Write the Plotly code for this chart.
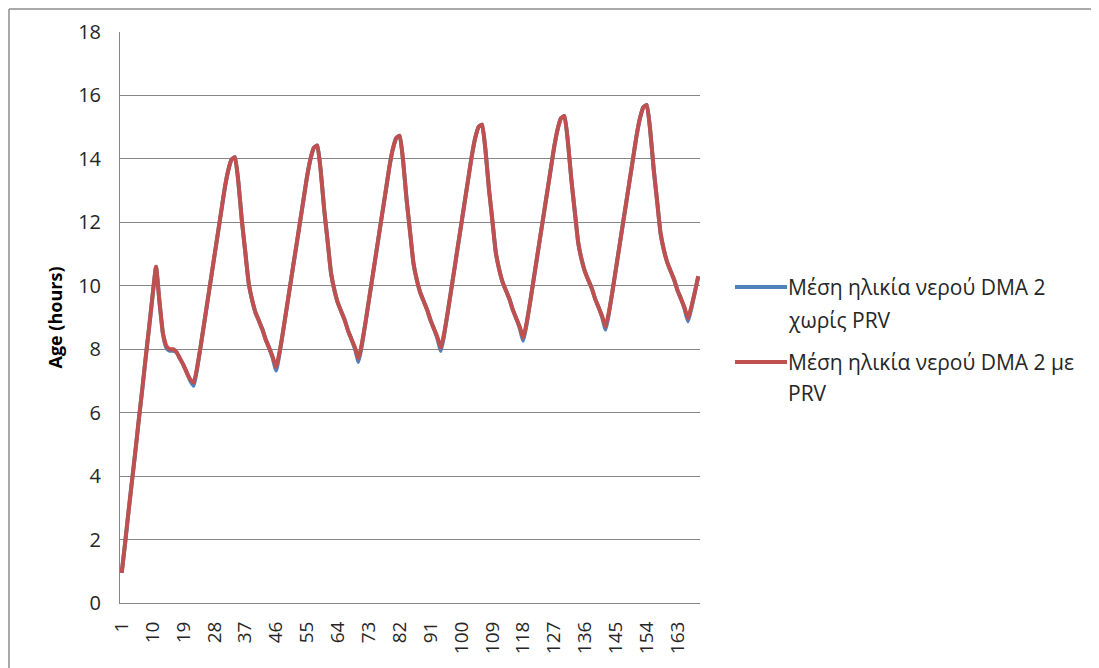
import plotly.graph_objects as go

hours = list(range(1, 170))
tick_hours = list(range(1, 170, 9))

age_with_prv = [
    0.95, 1.9, 2.9, 3.85, 4.8, 5.8, 6.75, 7.75, 8.7, 9.7,
    10.6, 9.5, 8.5, 8.1, 8.0, 8.0, 7.9, 7.7, 7.5, 7.25,
    7.05, 6.95, 7.45, 8.09, 8.8, 9.51, 10.22, 10.93, 11.64, 12.35,
    13.06, 13.62, 13.98, 14.05, 13.26, 12.06, 11.07, 10.08, 9.55, 9.15,
    8.89, 8.62, 8.29, 8.03, 7.76, 7.43, 7.92, 8.55, 9.25, 9.95,
    10.65, 11.34, 12.04, 12.74, 13.44, 14.0, 14.35, 14.42, 13.61, 12.4,
    11.4, 10.39, 9.85, 9.45, 9.18, 8.91, 8.57, 8.3, 8.04, 7.7,
    8.19, 8.82, 9.53, 10.23, 10.93, 11.64, 12.34, 13.04, 13.75, 14.31,
    14.66, 14.73, 13.93, 12.72, 11.72, 10.72, 10.18, 9.78, 9.51, 9.24,
    8.91, 8.64, 8.37, 8.04, 8.53, 9.17, 9.87, 10.57, 11.28, 11.98,
    12.69, 13.39, 14.09, 14.66, 15.01, 15.08, 14.27, 13.06, 12.06, 11.05,
    10.51, 10.11, 9.84, 9.57, 9.23, 8.96, 8.7, 8.36, 8.85, 9.48,
    10.18, 10.88, 11.58, 12.27, 12.97, 13.67, 14.37, 14.93, 15.28, 15.35,
    14.55, 13.36, 12.36, 11.37, 10.83, 10.44, 10.17, 9.91, 9.57, 9.31,
    9.04, 8.71, 9.2, 9.83, 10.53, 11.23, 11.93, 12.62, 13.32, 14.02,
    14.72, 15.28, 15.63, 15.7, 14.89, 13.68, 12.67, 11.66, 11.12, 10.72,
    10.45, 10.18, 9.84, 9.58, 9.31, 8.97, 9.35, 9.8, 10.3,
]

age_without_prv = [
    0.95, 1.9, 2.9, 3.85, 4.8, 5.8, 6.75, 7.75, 8.7, 9.7,
    10.6, 9.5, 8.5, 8.05, 7.95, 7.95, 7.9, 7.7, 7.5, 7.25,
    7.0, 6.85, 7.4, 8.09, 8.8, 9.51, 10.22, 10.93, 11.64, 12.35,
    13.06, 13.62, 13.98, 14.05, 13.26, 12.06, 11.07, 10.08, 9.55, 9.15,
    8.89, 8.62, 8.29, 8.03, 7.72, 7.33, 7.87, 8.55, 9.25, 9.95,
    10.65, 11.34, 12.04, 12.74, 13.44, 14.0, 14.35, 14.42, 13.61, 12.4,
    11.4, 10.39, 9.85, 9.45, 9.18, 8.91, 8.57, 8.3, 8.0, 7.6,
    8.14, 8.82, 9.53, 10.23, 10.93, 11.64, 12.34, 13.04, 13.75, 14.31,
    14.66, 14.73, 13.93, 12.72, 11.72, 10.72, 10.18, 9.78, 9.51, 9.24,
    8.91, 8.64, 8.33, 7.95, 8.48, 9.17, 9.87, 10.57, 11.28, 11.98,
    12.69, 13.39, 14.09, 14.66, 15.01, 15.08, 14.27, 13.06, 12.06, 11.05,
    10.51, 10.11, 9.84, 9.57, 9.23, 8.96, 8.66, 8.27, 8.8, 9.48,
    10.18, 10.88, 11.58, 12.27, 12.97, 13.67, 14.37, 14.93, 15.28, 15.35,
    14.55, 13.36, 12.36, 11.37, 10.83, 10.44, 10.17, 9.91, 9.57, 9.31,
    9.0, 8.62, 9.15, 9.83, 10.53, 11.23, 11.93, 12.62, 13.32, 14.02,
    14.72, 15.28, 15.63, 15.7, 14.89, 13.68, 12.67, 11.66, 11.12, 10.72,
    10.45, 10.18, 9.84, 9.58, 9.27, 8.88, 9.3, 9.8, 10.3,
]

series_names = ["Μέση ηλικία νερού DMA 2 χωρίς PRV", "Μέση ηλικία νερού DMA 2 με PRV"]
legend_lines = [["Μέση ηλικία νερού DMA 2", "χωρίς PRV"], ["Μέση ηλικία νερού DMA 2 με", "PRV"]]
colors = ["#4F81BD", "#C0504D"]

# page body has an 8px margin; work in screen pixels and shift
OFF = 8
W, H = 1099 - OFF, 668 - OFF
L, T = 120 - OFF, 32 - OFF
pw, ph = 580, 571
R = W - L - pw
B = H - T - ph

def px_x(x):
    return (x - OFF - L) / pw

def px_y(y):
    return (T + ph - (y - OFF)) / ph

font_family = "Open Sans, Noto Sans, sans-serif"
txt_color = "#262626"

fig = go.Figure()
for name, vals, col in zip(series_names, [age_without_prv, age_with_prv], colors):
    fig.add_trace(go.Scatter(
        x=hours, y=vals, mode="lines", name=name,
        line=dict(color=col, width=4, shape="spline", smoothing=0.4),
        showlegend=False,
    ))

shapes = [
    dict(type="line", xref="paper", yref="paper",
         x0=px_x(9), x1=px_x(1099), y0=px_y(9), y1=px_y(9),
         line=dict(color="#8C8C8C", width=1.5)),
    dict(type="line", xref="paper", yref="paper",
         x0=px_x(9), x1=px_x(9), y0=px_y(9), y1=px_y(668),
         line=dict(color="#8C8C8C", width=1.5)),
]
annotations = []
legend_y = [[287, 320], [362, 393]]
for col, lines, ys in zip(colors, legend_lines, legend_y):
    shapes.append(dict(type="line", xref="paper", yref="paper",
                       x0=px_x(735), x1=px_x(787), y0=px_y(ys[0]), y1=px_y(ys[0]),
                       line=dict(color=col, width=4)))
    for txt, yy in zip(lines, ys):
        annotations.append(dict(xref="paper", yref="paper", x=px_x(786), y=px_y(yy),
                                xanchor="left", yanchor="middle", showarrow=False,
                                text=txt, font=dict(family=font_family, size=21, color=txt_color)))

fig.update_layout(
    width=W, height=H,
    margin=dict(l=L, r=R, t=T, b=B, autoexpand=False),
    paper_bgcolor="white", plot_bgcolor="white",
    shapes=shapes, annotations=annotations,
    font=dict(family=font_family, size=20, color=txt_color),
    xaxis=dict(
        range=[0.5, 169.5], tickmode="array", tickvals=tick_hours,
        ticktext=[str(v) for v in tick_hours], tickangle=-90,
        showgrid=False, zeroline=False, showline=True, linecolor="#868686", linewidth=1,
        ticks="", ticklabelstandoff=10, automargin=False,
        tickfont=dict(family=font_family, size=19, color=txt_color),
    ),
    yaxis=dict(
        range=[0, 18], dtick=2, tick0=0,
        showgrid=True, gridcolor="#868686", gridwidth=1,
        zeroline=False, showline=True, linecolor="#868686", linewidth=1,
        ticks="", ticklabelstandoff=14, automargin=False,
        tickfont=dict(family=font_family, size=20, color=txt_color),
        title=dict(text="<b>Age (hours)</b>", standoff=10,
                   font=dict(family=font_family, size=18, color="#000000")),
    ),
)

fig.write_html("out.html")
